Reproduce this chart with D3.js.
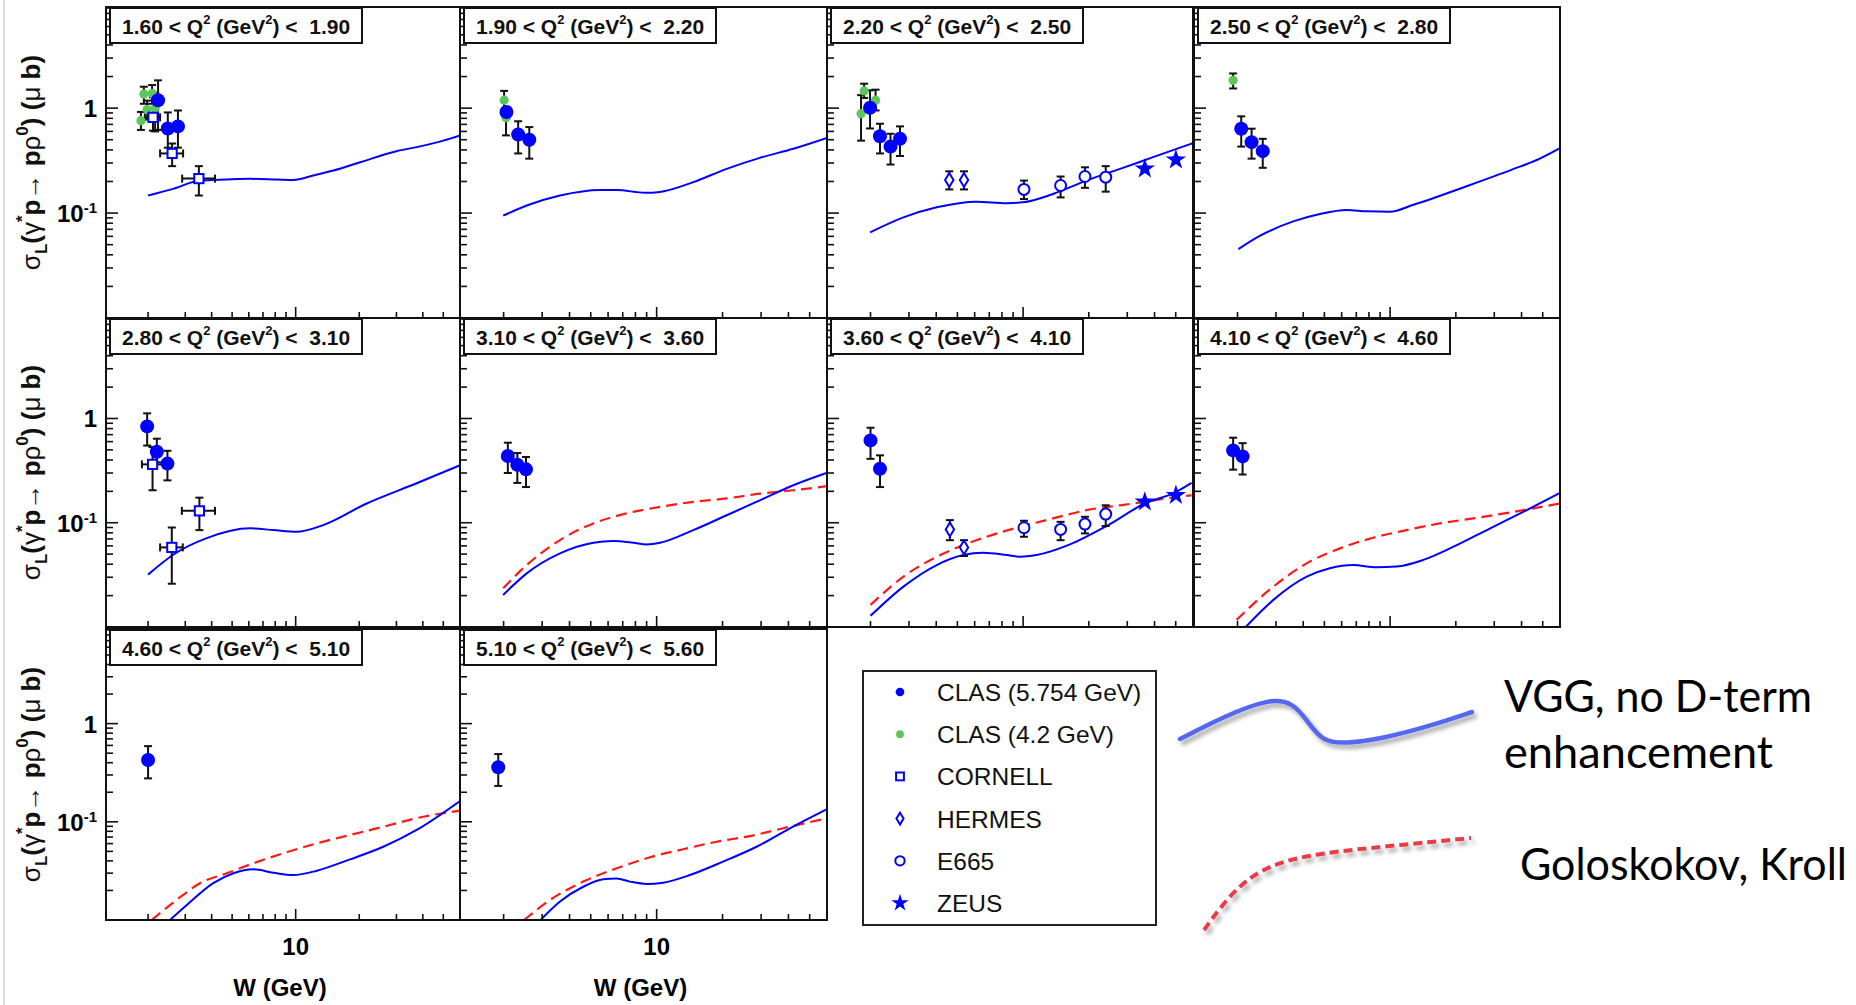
<!DOCTYPE html>
<html>
<head>
<meta charset="utf-8">
<script src="https://cdn.jsdelivr.net/npm/d3@7"></script>
<style>
  html, body { margin: 0; padding: 0; background: #fff; }
  svg { display: block; }
  text { font-family: "Liberation Sans", Arial, Helvetica, sans-serif; }
</style>
</head>
<body>
<svg id="chart" width="1856" height="1005"></svg>
<script>
// ---- Q^2 bins (one panel each) ----
const qBins = [
  ["1.60", "1.90"], ["1.90", "2.20"], ["2.20", "2.50"], ["2.50", "2.80"],
  ["2.80", "3.10"], ["3.10", "3.60"], ["3.60", "4.10"], ["4.10", "4.60"],
  ["4.60", "5.10"], ["5.10", "5.60"]
];

// ---- measurements: [panel, W (GeV), sigma_L (ub), lower bound, upper bound] ----
const clas575 = [
  [0, 2.23, 1.19, 0.62, 1.84], [0, 2.48, 0.64, 0.42, 0.91], [0, 2.77, 0.67, 0.42, 0.95],
  [1, 2.06, 0.92, 0.80, 1.02], [1, 2.33, 0.56, 0.37, 0.75], [1, 2.62, 0.50, 0.33, 0.66],
  [2, 1.99, 1.01, 0.64, 1.48], [2, 2.21, 0.54, 0.37, 0.71], [2, 2.47, 0.43, 0.29, 0.57], [2, 2.73, 0.51, 0.35, 0.67],
  [3, 2.08, 0.637, 0.43, 0.835], [3, 2.32, 0.474, 0.33, 0.637], [3, 2.61, 0.389, 0.27, 0.51],
  [4, 1.98, 0.84, 0.55, 1.12], [4, 2.20, 0.48, 0.38, 0.64], [4, 2.47, 0.369, 0.255, 0.49],
  [5, 2.09, 0.436, 0.30, 0.586], [5, 2.31, 0.36, 0.241, 0.466], [5, 2.53, 0.325, 0.22, 0.427],
  [6, 2.00, 0.616, 0.41, 0.815], [6, 2.21, 0.33, 0.22, 0.443],
  [7, 1.91, 0.494, 0.323, 0.654], [7, 2.11, 0.433, 0.29, 0.58],
  [8, 2.00, 0.426, 0.277, 0.59],
  [9, 1.89, 0.359, 0.232, 0.49]
];
const clas42 = [
  [0, 1.85, 0.76, 0.62, 0.92], [0, 1.91, 1.36, 1.10, 1.60], [0, 2.09, 1.38, 1.10, 1.66],
  [0, 1.98, 0.97, 0.78, 1.18], [0, 2.16, 1.00, 0.60, 1.40],
  [1, 2.01, 1.19, 0.95, 1.46], [1, 2.05, 0.81, 0.55, 1.00],
  [2, 1.87, 1.46, 1.25, 1.71], [2, 2.11, 1.19, 0.95, 1.50], [2, 1.81, 0.885, 0.49, 1.33],
  [3, 1.91, 1.84, 1.54, 2.14]
];
// Cornell also carries a W range: [..., W low, W high]
const cornell = [
  [0, 2.11, 0.817, 0.61, 1.27, 1.93, 2.28], [0, 2.60, 0.37, 0.28, 0.46, 2.28, 2.93],
  [0, 3.48, 0.213, 0.147, 0.28, 2.90, 4.15],
  [4, 2.10, 0.363, 0.205, 0.532, 1.87, 2.36], [4, 2.59, 0.058, 0.026, 0.09, 2.28, 2.92],
  [4, 3.50, 0.13, 0.085, 0.174, 2.89, 4.15]
];
const hermes = [
  [2, 4.59, 0.207, 0.168, 0.25], [2, 5.36, 0.207, 0.168, 0.25],
  [6, 4.62, 0.0863, 0.068, 0.106], [6, 5.36, 0.058, 0.048, 0.068]
];
const e665 = [
  [2, 10.09, 0.168, 0.136, 0.204], [2, 14.85, 0.183, 0.141, 0.223],
  [2, 19.2, 0.223, 0.174, 0.273], [2, 23.9, 0.22, 0.16, 0.28],
  [6, 10.09, 0.0895, 0.0734, 0.1045], [6, 14.85, 0.0863, 0.068, 0.102],
  [6, 19.2, 0.097, 0.079, 0.114], [6, 23.9, 0.121, 0.093, 0.147]
];
const zeus = [
  [2, 36.1, 0.264, 0.252, 0.277], [2, 50.1, 0.322, 0.305, 0.34],
  [6, 36.1, 0.1585, 0.151, 0.166], [6, 50.1, 0.1835, 0.175, 0.192]
];

// ---- model curves per panel: [W, sigma_L] ----
const vggCurves = [
  [[2.0,0.147],[2.63,0.17],[3.52,0.204],[4.71,0.209],[6.08,0.212],[8.13,0.209],[9.74,0.207],[12.1,0.228],[15.1,0.254],[20.2,0.305],[30.0,0.389],[37.4,0.425],[50,0.49],[60,0.55]],
  [[1.99,0.0944],[2.55,0.118],[3.62,0.147],[5.51,0.166],[6.57,0.166],[8.85,0.156],[10.35,0.159],[14.7,0.197],[20.9,0.264],[29.6,0.336],[42.1,0.41],[60,0.52]],
  [[1.99,0.0654],[2.83,0.091],[4.02,0.1135],[6.12,0.1285],[8.4,0.124],[10.0,0.1265],[13.7,0.152],[19.5,0.204],[27.8,0.264],[39.4,0.341],[60,0.464]],
  [[2.02,0.0454],[2.54,0.0608],[3.6,0.0833],[4.77,0.098],[6.32,0.107],[7.81,0.104],[9.97,0.103],[12.8,0.12],[22.4,0.18],[36.6,0.262],[48.5,0.33],[60,0.415]],
  [[2.0,0.0318],[2.63,0.0493],[3.79,0.0711],[6.08,0.0884],[7.84,0.085],[10.1,0.0818],[13.5,0.0948],[21.7,0.153],[37.4,0.239],[60,0.356]],
  [[1.99,0.0203],[2.55,0.0327],[3.62,0.0508],[5.14,0.0643],[6.33,0.0667],[7.82,0.0643],[9.0,0.062],[10.35,0.0643],[14.7,0.085],[20.9,0.118],[29.6,0.164],[42.1,0.229],[59.7,0.30]],
  [[2.0,0.0128],[2.83,0.0244],[4.02,0.0393],[5.32,0.049],[6.57,0.0515],[8.4,0.049],[9.67,0.0472],[11.5,0.049],[16.4,0.062],[24.1,0.093],[36.1,0.153],[50.1,0.197],[59.1,0.241]],
  [[2.16,0.0098],[2.92,0.0182],[4.15,0.0304],[5.3,0.0366],[6.78,0.0393],[8.68,0.0374],[10.7,0.038],[14.2,0.044],[20.2,0.061],[28.6,0.088],[40.7,0.127],[60,0.193]],
  [[2.54,0.01],[3.05,0.0142],[4.07,0.0237],[5.07,0.0299],[6.3,0.0328],[7.84,0.0303],[9.74,0.0287],[12.6,0.0318],[18.1,0.0415],[26.0,0.0557],[37.4,0.0826],[60,0.163]],
  [[2.95,0.01],[3.62,0.0154],[4.62,0.0218],[5.7,0.026],[6.57,0.0264],[7.55,0.0246],[9.0,0.0233],[10.7,0.024],[14.2,0.0287],[20.1,0.0393],[28.6,0.0557],[40.6,0.0859],[59.7,0.134]]
];
const gkCurves = [
  null, null, null, null, null,
  [[1.99,0.0235],[2.55,0.0393],[3.62,0.0682],[5.14,0.0985],[7.29,0.1228],[10.35,0.142],[14.7,0.1585],[20.9,0.171],[29.6,0.19],[42.1,0.205],[59.7,0.224]],
  [[2.0,0.0163],[2.83,0.0304],[4.02,0.0472],[5.32,0.061],[6.8,0.0734],[9.67,0.0914],[13.7,0.11],[19.5,0.132],[27.8,0.147],[36.1,0.1585],[50.1,0.177],[59.1,0.1835]],
  [[1.98,0.0117],[2.92,0.0244],[4.15,0.0408],[5.89,0.0568],[8.37,0.0718],[11.9,0.085],[16.9,0.0985],[24.0,0.11],[40.7,0.132],[60,0.153]],
  [[2.08,0.01],[2.73,0.016],[3.52,0.0237],[4.71,0.0299],[6.3,0.0378],[8.74,0.0478],[12.6,0.0604],[18.1,0.0734],[26.0,0.0891],[40.2,0.1127],[60,0.13]],
  [[2.48,0.01],[3.26,0.016],[4.62,0.0246],[6.57,0.0336],[9.32,0.0435],[13.2,0.0525],[18.8,0.0627],[26.7,0.0716],[37.8,0.0859],[59.7,0.1086]]
];

// ---- axes ----
const wDomain = [1.264, 60];
const sDomain = [0.01, 9.2];
const yTicks = [0.02,0.03,0.04,0.05,0.06,0.07,0.08,0.09,0.1,0.2,0.3,0.4,0.5,0.6,0.7,0.8,0.9,1,2,3,4,5,6,7,8,9];
const yMajor = [0.1, 1];
const xTicks = [2,3,4,5,6,7,8,9,10,20,30,40,50];
const xMajor = [10];

const legendNames = ["CLAS (5.754 GeV)", "CLAS (4.2 GeV)", "CORNELL", "HERMES", "E665", "ZEUS"];
const legendKinds = ["clas", "clas42", "cornell", "hermes", "e665", "zeus"];

// ---- page layout ----
const colEdges = [[106, 460], [460, 827], [827, 1193], [1194, 1560]];
const rowEdges = [[7, 318], [318, 627], [629, 920]];
const BLUE = "#0000ff", GREEN = "#5cc85c", RED = "#ff1a1a", INK = "#111";

const svg = d3.select("#chart");
const defs = svg.append("defs");
const shadow = defs.append("filter").attr("id", "shadow")
  .attr("x", "-20%").attr("y", "-40%").attr("width", "140%").attr("height", "180%");
shadow.append("feDropShadow").attr("dx", 3).attr("dy", 4).attr("stdDeviation", 2.2)
  .attr("flood-color", "#000").attr("flood-opacity", 0.35);

svg.append("rect").attr("width", 1856).attr("height", 1005).attr("fill", "#fff");
// thin slide border on the left
svg.append("line").attr("x1", 4).attr("x2", 4).attr("y1", 0).attr("y2", 1005)
  .attr("stroke", "#cfcfcf").attr("stroke-width", 1.5);

function marker(sel, kind, cx, cy, k = 1) {
  if (kind === "clas") {
    sel.append("circle").attr("cx", cx).attr("cy", cy).attr("r", 7 * k).attr("fill", BLUE);
  } else if (kind === "clas42") {
    sel.append("circle").attr("cx", cx).attr("cy", cy).attr("r", 4.6 * k).attr("fill", GREEN);
  } else if (kind === "cornell") {
    const h = 4.6 * k;
    sel.append("rect").attr("x", cx - h).attr("y", cy - h).attr("width", 2 * h).attr("height", 2 * h)
      .attr("fill", "#fff").attr("stroke", BLUE).attr("stroke-width", 2);
  } else if (kind === "hermes") {
    const a = 4.2 * k, b = 7 * k;
    sel.append("path").attr("d", `M${cx},${cy - b}L${cx + a},${cy}L${cx},${cy + b}L${cx - a},${cy}Z`)
      .attr("fill", "#fff").attr("stroke", BLUE).attr("stroke-width", 2);
  } else if (kind === "e665") {
    sel.append("circle").attr("cx", cx).attr("cy", cy).attr("r", 5.5 * k)
      .attr("fill", "#fff").attr("stroke", BLUE).attr("stroke-width", 2);
  } else if (kind === "zeus") {
    sel.append("path").attr("d", d3.symbol(d3.symbolStar, 130 * k * k)())
      .attr("transform", `translate(${cx},${cy})`).attr("fill", BLUE);
  }
}

function errorBars(sel, x, y, rows, withW) {
  const cap = 4;
  rows.forEach(d => {
    const cx = x(d[1]), yl = y(d[3]), yh = y(d[4]);
    const g = sel.append("g").attr("stroke", INK).attr("stroke-width", 2).attr("fill", "none");
    g.append("line").attr("x1", cx).attr("x2", cx).attr("y1", yl).attr("y2", yh);
    g.append("line").attr("x1", cx - cap).attr("x2", cx + cap).attr("y1", yl).attr("y2", yl);
    g.append("line").attr("x1", cx - cap).attr("x2", cx + cap).attr("y1", yh).attr("y2", yh);
    if (withW) {
      const cy = y(d[2]), xl = x(d[5]), xh = x(d[6]);
      g.append("line").attr("x1", xl).attr("x2", xh).attr("y1", cy).attr("y2", cy);
      g.append("line").attr("x1", xl).attr("x2", xl).attr("y1", cy - cap).attr("y2", cy + cap);
      g.append("line").attr("x1", xh).attr("x2", xh).attr("y1", cy - cap).attr("y2", cy + cap);
    }
  });
}

const datasets = [
  { rows: clas42, kind: "clas42" },
  { rows: cornell, kind: "cornell", withW: true },
  { rows: hermes, kind: "hermes" },
  { rows: e665, kind: "e665" },
  { rows: zeus, kind: "zeus" },
  { rows: clas575, kind: "clas" }
];

qBins.forEach((bin, i) => {
  const r = Math.floor(i / 4), c = i % 4;
  const [x0, x1] = colEdges[c], [y0, y1] = rowEdges[r];
  const x = d3.scaleLog().domain(wDomain).range([x0, x1]);
  const y = d3.scaleLog().domain(sDomain).range([y1, y0]);
  const g = svg.append("g");

  defs.append("clipPath").attr("id", "clip" + i).append("rect")
    .attr("x", x0).attr("y", y0).attr("width", x1 - x0).attr("height", y1 - y0);
  const plot = g.append("g").attr("clip-path", `url(#clip${i})`);

  const line = d3.line().x(d => x(d[0])).y(d => y(d[1])).curve(d3.curveMonotoneX);
  if (gkCurves[i]) {
    plot.append("path").attr("d", line(gkCurves[i])).attr("fill", "none")
      .attr("stroke", RED).attr("stroke-width", 2.2).attr("stroke-dasharray", "11 6");
  }
  if (vggCurves[i]) {
    plot.append("path").attr("d", line(vggCurves[i])).attr("fill", "none")
      .attr("stroke", BLUE).attr("stroke-width", 2);
  }

  datasets.forEach(ds => {
    const rows = ds.rows.filter(d => d[0] === i);
    errorBars(plot, x, y, rows, ds.withW);
  });
  datasets.forEach(ds => {
    ds.rows.filter(d => d[0] === i).forEach(d => marker(plot, ds.kind, x(d[1]), y(d[2])));
  });

  // ticks: left axis and bottom axis, pointing inward
  const tk = g.append("g").attr("stroke", INK).attr("stroke-width", 1.6);
  yTicks.forEach(v => {
    const len = yMajor.includes(v) ? 12 : 7;
    tk.append("line").attr("x1", x0).attr("x2", x0 + len).attr("y1", y(v)).attr("y2", y(v));
  });
  xTicks.forEach(v => {
    const len = xMajor.includes(v) ? 11 : 6;
    tk.append("line").attr("x1", x(v)).attr("x2", x(v)).attr("y1", y1).attr("y2", y1 - len);
  });

  // frame
  g.append("rect").attr("x", x0).attr("y", y0).attr("width", x1 - x0).attr("height", y1 - y0)
    .attr("fill", "none").attr("stroke", INK).attr("stroke-width", 2);

  // Q^2 bin label
  const bx = x0 + 4, by = y0 + 1;
  g.append("rect").attr("x", bx).attr("y", by).attr("width", 252).attr("height", 35)
    .attr("fill", "#fff").attr("stroke", INK).attr("stroke-width", 2);
  const t = g.append("text").attr("x", bx + 12).attr("y", by + 26)
    .attr("font-size", 21).attr("font-weight", "bold").attr("fill", INK)
    .style("white-space", "pre");
  t.append("tspan").text(`${bin[0]} < Q`);
  t.append("tspan").attr("dy", -10).attr("font-size", 13).text("2");
  t.append("tspan").attr("dy", 10).text(" (GeV");
  t.append("tspan").attr("dy", -10).attr("font-size", 13).text("2");
  t.append("tspan").attr("dy", 10).text(`) <  ${bin[1]}`);

  // y tick labels and title on the first column
  if (c === 0) {
    g.append("text").attr("x", 97).attr("y", y(1) + 9).attr("text-anchor", "end")
      .attr("font-size", 24).attr("font-weight", "bold").text("1");
    const t10 = g.append("text").attr("x", 97).attr("y", y(0.1) + 9).attr("text-anchor", "end")
      .attr("font-size", 24).attr("font-weight", "bold");
    t10.append("tspan").text("10");
    t10.append("tspan").attr("dy", -9).attr("font-size", 15).text("-1");

    const cy = (y0 + y1) / 2;
    const tt = g.append("text").attr("transform", `translate(40,${cy}) rotate(-90)`)
      .attr("text-anchor", "middle").attr("font-size", 26).attr("fill", INK);
    const part = (s, bold, dy, size) => {
      const sp = tt.append("tspan").text(s);
      if (bold) sp.attr("font-weight", "bold");
      if (dy) sp.attr("dy", dy);
      if (size) sp.attr("font-size", size);
    };
    part("σ", false);
    part("L", true, 7, 17);
    part("(", true, -7);
    part("γ", false);
    part("*", true, -12, 17);
    part("p", true, 12);
    part("→", false);
    part(" p", true);
    part("ρ", false);
    part("0", true, -12, 17);
    part(")", true, 12);
    part(" (", true);
    part("μ", false);
    part(" b)", true);
  }

  // x tick labels and title on the bottom row
  if (r === 2) {
    g.append("text").attr("x", x(10)).attr("y", 955).attr("text-anchor", "middle")
      .attr("font-size", 24).attr("font-weight", "bold").text("10");
    g.append("text").attr("x", (x0 + x1) / 2 - 3).attr("y", 996).attr("text-anchor", "middle")
      .attr("font-size", 24).attr("font-weight", "bold").text("W (GeV)");
  }
});

// ---- legend ----
const lg = svg.append("g");
lg.append("rect").attr("x", 863).attr("y", 671).attr("width", 293).attr("height", 254)
  .attr("fill", "#fff").attr("stroke", "#222").attr("stroke-width", 2);
const legendY = d3.scalePoint().domain(legendNames).range([692, 903]);
legendNames.forEach((name, k) => {
  const ly = legendY(name);
  marker(lg, legendKinds[k], 900, ly, legendKinds[k] === "clas" ? 0.62 : 0.85);
  lg.append("text").attr("x", 937).attr("y", ly + 9).attr("font-size", 24.5)
    .attr("fill", "#111").text(name);
});

// ---- model key sketches and captions ----
const sketch = d3.line().curve(d3.curveBasis);
const vggSketch = [[1180,739],[1225,716],[1268,699],[1293,702],[1308,722],[1322,741],[1345,744],[1385,738],[1430,726],[1472,712]];
const gkSketch = [[1204,930],[1222,905],[1245,880],[1275,863],[1320,853],[1390,846],[1471,838]];
svg.append("path").attr("d", sketch(vggSketch)).attr("fill", "none")
  .attr("stroke", "#5468f2").attr("stroke-width", 4.5).attr("stroke-linecap", "round")
  .attr("filter", "url(#shadow)");
svg.append("path").attr("d", sketch(gkSketch)).attr("fill", "none")
  .attr("stroke", "#ea3b48").attr("stroke-width", 4).attr("stroke-dasharray", "9 5")
  .attr("filter", "url(#shadow)");

const capFont = "Lato, 'Open Sans', sans-serif";
svg.append("text").attr("x", 1504).attr("y", 712).attr("font-size", 44)
  .style("font-family", capFont).attr("textLength", 308).attr("lengthAdjust", "spacingAndGlyphs")
  .text("VGG, no D-term");
svg.append("text").attr("x", 1504).attr("y", 768).attr("font-size", 44)
  .style("font-family", capFont).attr("textLength", 269).attr("lengthAdjust", "spacingAndGlyphs")
  .text("enhancement");
svg.append("text").attr("x", 1520).attr("y", 880).attr("font-size", 44)
  .style("font-family", capFont).attr("textLength", 327).attr("lengthAdjust", "spacingAndGlyphs")
  .text("Goloskokov, Kroll");
</script>
</body>
</html>
